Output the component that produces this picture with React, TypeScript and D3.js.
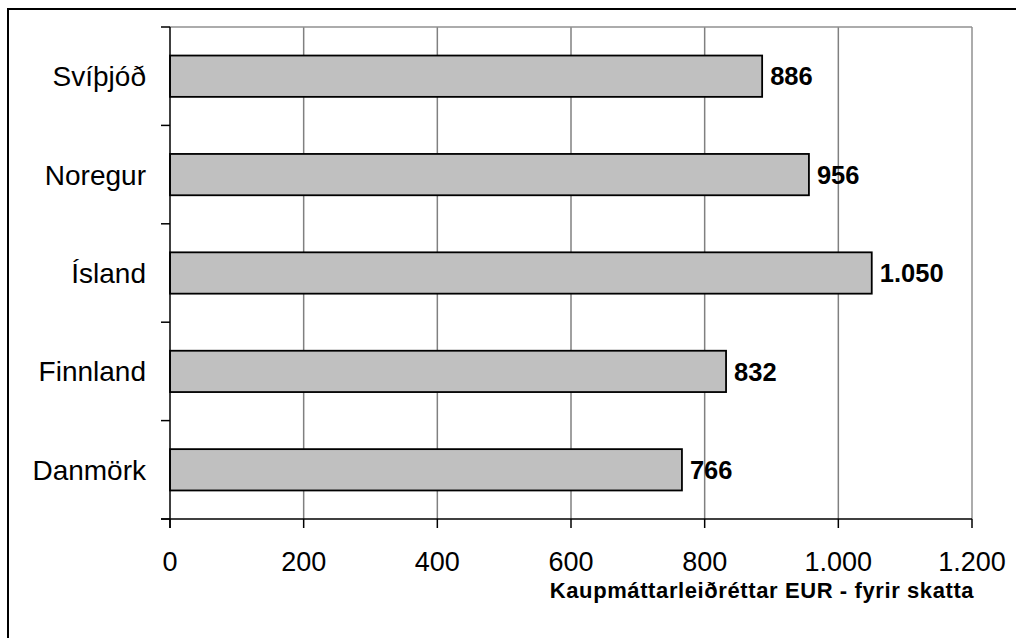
import * as React from "react";
import * as d3 from "d3";

const countries = ["Svíþjóð", "Noregur", "Ísland", "Finnland", "Danmörk"];
const values = [886, 956, 1050, 832, 766];
const xTicks = [0, 200, 400, 600, 800, 1000, 1200];
const xTitle = "Kaupmáttarleiðréttar EUR - fyrir skatta";

const W = 1016;
const H = 638;
const PLOT = { left: 170, top: 27, right: 972, bottom: 519 };
const FONT = "'Liberation Sans', Arial, sans-serif";

const fmt = (v: number) => d3.format(",")(v).replace(/,/g, ".");

export default function App() {
  const x = d3.scaleLinear().domain([0, 1200]).range([PLOT.left, PLOT.right]);
  const y = d3
    .scaleBand<string>()
    .domain(countries)
    .range([PLOT.top, PLOT.bottom])
    .paddingInner(0.58)
    .paddingOuter(0.29);
  const bandStep = (PLOT.bottom - PLOT.top) / countries.length;

  return (
    <div style={{ position: "fixed", left: 0, top: 0, width: W, height: H, background: "#fff" }}>
      <svg width={W} height={H} style={{ display: "block" }}>
        {/* outer chart frame (cropped) */}
        <path d={`M8,${H + 10} V9 H${W + 10}`} fill="none" stroke="#000" strokeWidth={2} />

        {/* gridlines */}
        {xTicks.slice(1).map((t) => (
          <line
            key={`g-${t}`}
            x1={x(t)}
            x2={x(t)}
            y1={PLOT.top}
            y2={PLOT.bottom}
            stroke={t === 1200 ? "#909090" : "#808080"}
            strokeWidth={1.5}
          />
        ))}
        {/* plot area top border */}
        <line x1={PLOT.left} x2={PLOT.right} y1={PLOT.top} y2={PLOT.top} stroke="#909090" strokeWidth={1.5} />

        {/* bars */}
        {countries.map((c, i) => (
          <rect
            key={c}
            x={x(0)}
            y={y(c)}
            width={x(values[i]) - x(0)}
            height={y.bandwidth()}
            fill="#c0c0c0"
            stroke="#000"
            strokeWidth={1.8}
          />
        ))}

        {/* value labels */}
        {countries.map((c, i) => (
          <text
            key={`v-${c}`}
            x={x(values[i]) + 8}
            y={(y(c) ?? 0) + y.bandwidth() / 2}
            dy="0.36em"
            fontFamily={FONT}
            fontWeight="bold"
            fontSize={25.5}
            fill="#000"
          >
            {fmt(values[i])}
          </text>
        ))}

        {/* y axis */}
        <line x1={PLOT.left} x2={PLOT.left} y1={PLOT.top} y2={PLOT.bottom + 9} stroke="#000" strokeWidth={1.5} />
        {d3.range(countries.length + 1).map((i) => (
          <line
            key={`yt-${i}`}
            x1={PLOT.left - 9}
            x2={PLOT.left}
            y1={PLOT.top + i * bandStep}
            y2={PLOT.top + i * bandStep}
            stroke="#000"
            strokeWidth={1.5}
          />
        ))}
        {countries.map((c) => (
          <text
            key={`yl-${c}`}
            x={146}
            y={(y(c) ?? 0) + y.bandwidth() / 2}
            dy="0.36em"
            textAnchor="end"
            fontFamily={FONT}
            fontSize={28}
            fill="#000"
          >
            {c}
          </text>
        ))}

        {/* x axis */}
        <line x1={PLOT.left - 9} x2={PLOT.right} y1={PLOT.bottom} y2={PLOT.bottom} stroke="#000" strokeWidth={1.5} />
        {xTicks.map((t) => (
          <g key={`xt-${t}`}>
            <line x1={x(t)} x2={x(t)} y1={PLOT.bottom} y2={PLOT.bottom + 9} stroke="#000" strokeWidth={1.5} />
            <text
              x={x(t)}
              y={571}
              textAnchor="middle"
              fontFamily={FONT}
              fontSize={27}
              fill="#000"
            >
              {fmt(t)}
            </text>
          </g>
        ))}
        <text
          x={762}
          y={598}
          textAnchor="middle"
          fontFamily={FONT}
          fontWeight="bold"
          fontSize={22}
          letterSpacing={0.6}
          fill="#000"
        >
          {xTitle}
        </text>
      </svg>
    </div>
  );
}
